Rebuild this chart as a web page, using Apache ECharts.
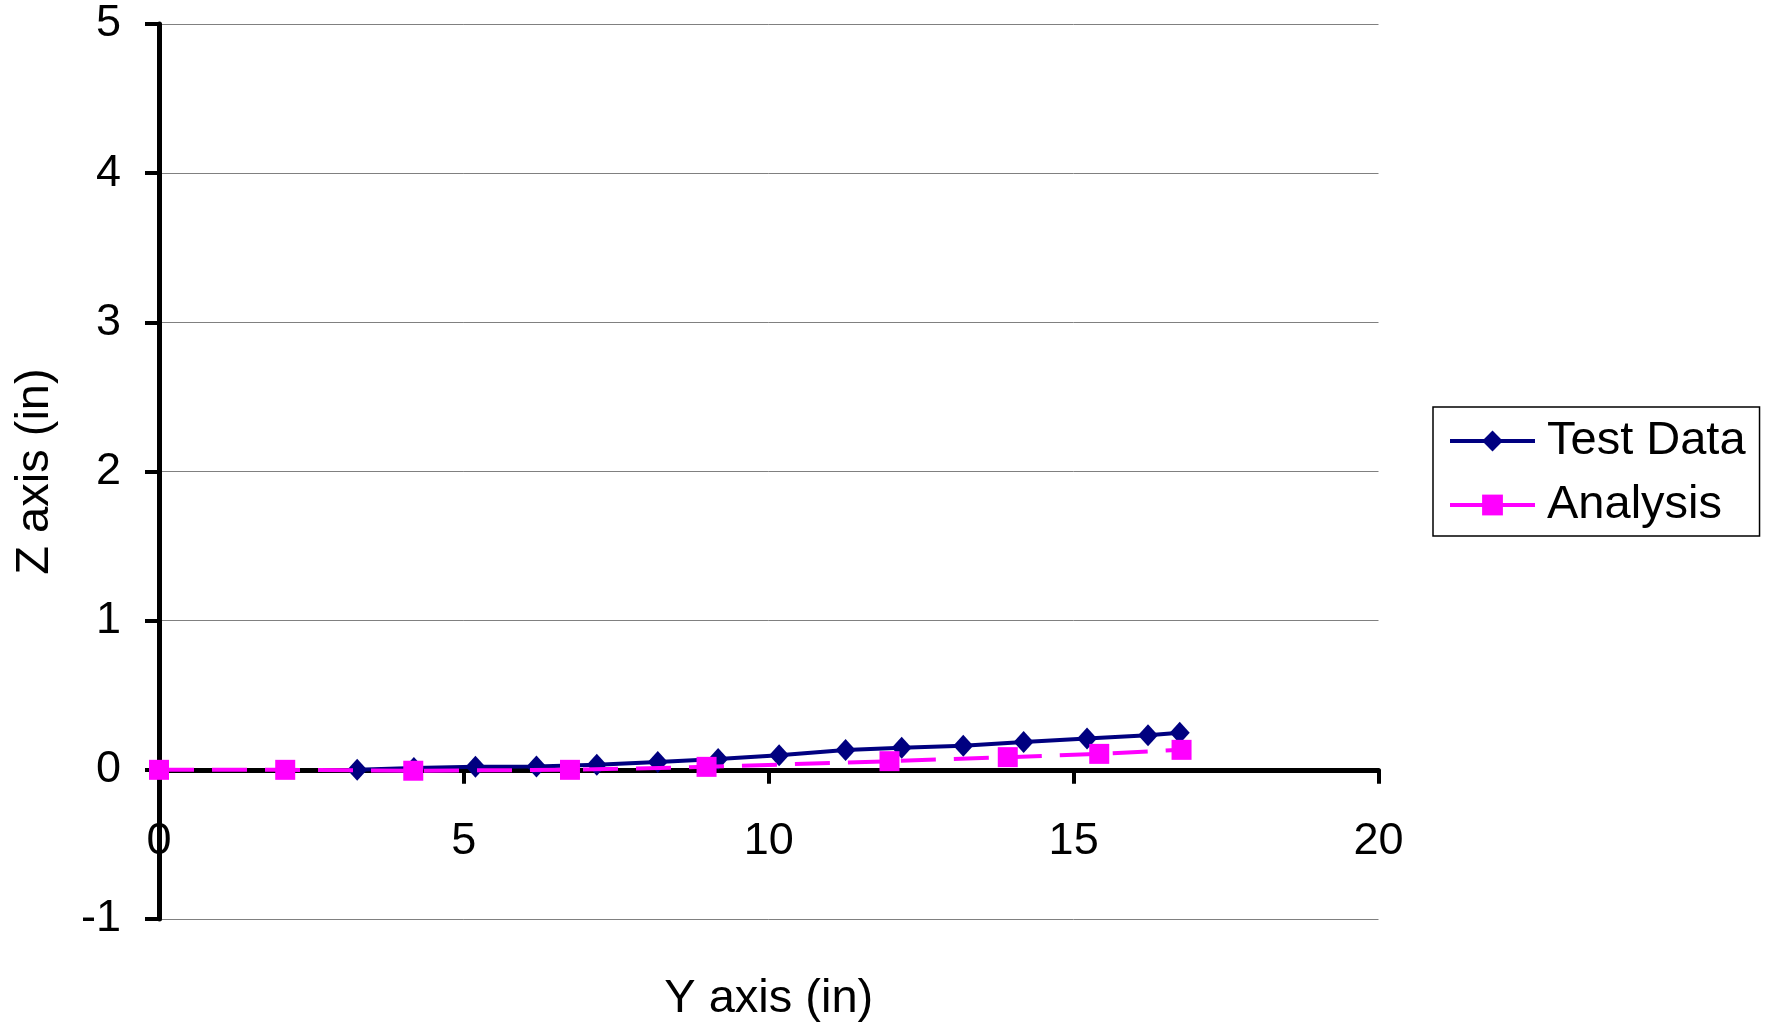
<!DOCTYPE html>
<html>
<head>
<meta charset="utf-8">
<script src="https://cdn.jsdelivr.net/npm/echarts@6/dist/echarts.min.js"></script>
<style>
html,body{margin:0;padding:0;background:#fff;}
#chart{width:1776px;height:1026px;}
</style>
</head>
<body>
<div id="chart"></div>
<script>
// Test Data (Y axis in, Z axis in)
var testY = [3.25, 4.18, 5.19, 6.19, 7.18, 8.18, 9.17, 10.17, 11.26, 12.18, 13.19, 14.18, 15.22, 16.22, 16.74];
var testZ = [0.0, 0.012, 0.02, 0.022, 0.034, 0.052, 0.072, 0.098, 0.133, 0.148, 0.162, 0.187, 0.21, 0.232, 0.248];
// Analysis
var anaY = [0, 2.07, 4.17, 6.74, 8.98, 11.98, 13.92, 15.42, 16.77];
var anaZ = [0, 0, -0.006, 0, 0.02, 0.058, 0.085, 0.107, 0.134];
var seriesNames = ['Test Data', 'Analysis'];
var xTitle = 'Y axis (in)';
var yTitle = 'Z axis (in)';
var zMin = -1, zMax = 5;

function pairs(xs, ys) { return xs.map(function (x, i) { return [x, ys[i]]; }); }

var FONT = '"Liberation Sans", Arial, sans-serif';
var gridTop = 24, gridBottom = 107, H = 1026;
var plotH = H - gridTop - gridBottom;
// x axis crosses at z = 0: shift it up from the bottom of the plot
var xOffset = -plotH * (0 - zMin) / (zMax - zMin);

var chart = echarts.init(document.getElementById('chart'), null, {renderer: 'canvas'});
chart.setOption({
  animation: false,
  backgroundColor: '#ffffff',
  textStyle: {fontFamily: FONT, color: '#000'},
  grid: {left: 159, right: 397.5, top: gridTop, bottom: gridBottom, containLabel: false, outerBoundsMode: 'none'},
  legend: {
    left: 1433, top: 407,
    orient: 'vertical',
    backgroundColor: '#fff',
    borderColor: '#000', borderWidth: 1.5,
    padding: [8, 14, 5, 15],
    itemWidth: 85, itemHeight: 26, itemGap: 12,
    textStyle: {fontFamily: FONT, fontSize: 47, color: '#000', lineHeight: 52, padding: [0, 0, 0, 7]},
    data: [
      {name: seriesNames[0], lineStyle: {width: 4}},
      {name: seriesNames[1], lineStyle: {width: 4, type: 'solid'}}
    ]
  },
  xAxis: {
    type: 'value', min: 0, max: 20, interval: 5,
    position: 'bottom', offset: xOffset,
    name: xTitle, nameLocation: 'middle', nameGap: 206,
    nameTextStyle: {fontFamily: FONT, fontSize: 47, color: '#000'},
    axisLine: {show: true, onZero: false, lineStyle: {color: '#000', width: 5}},
    axisTick: {show: true, inside: false, length: 14, lineStyle: {color: '#000', width: 4}},
    axisLabel: {fontFamily: FONT, fontSize: 45, color: '#000', margin: 49},
    splitLine: {show: false}
  },
  yAxis: {
    type: 'value', min: zMin, max: zMax, interval: 1,
    name: yTitle, nameLocation: 'middle', nameGap: 100, nameRotate: 90,
    nameTextStyle: {fontFamily: FONT, fontSize: 47, color: '#000'},
    axisLine: {show: true, onZero: false, lineStyle: {color: '#000', width: 5}},
    axisTick: {show: true, inside: false, length: 14, lineStyle: {color: '#000', width: 4}},
    axisLabel: {fontFamily: FONT, fontSize: 45, color: '#000', margin: 38},
    splitLine: {show: true, lineStyle: {color: '#808080', width: 1}}
  },
  series: [
    {
      name: seriesNames[0], type: 'line', data: pairs(testY, testZ),
      symbol: 'diamond', symbolSize: [20, 22], showSymbol: true,
      itemStyle: {color: '#000080'},
      lineStyle: {color: '#000080', width: 4, type: 'solid'},
      z: 3
    },
    {
      name: seriesNames[1], type: 'line', data: pairs(anaY, anaZ),
      symbol: 'rect', symbolSize: 20, showSymbol: true,
      itemStyle: {color: '#ff00ff'},
      lineStyle: {color: '#ff00ff', width: 4, type: [35, 18]},
      z: 4
    }
  ]
});
</script>
</body>
</html>
